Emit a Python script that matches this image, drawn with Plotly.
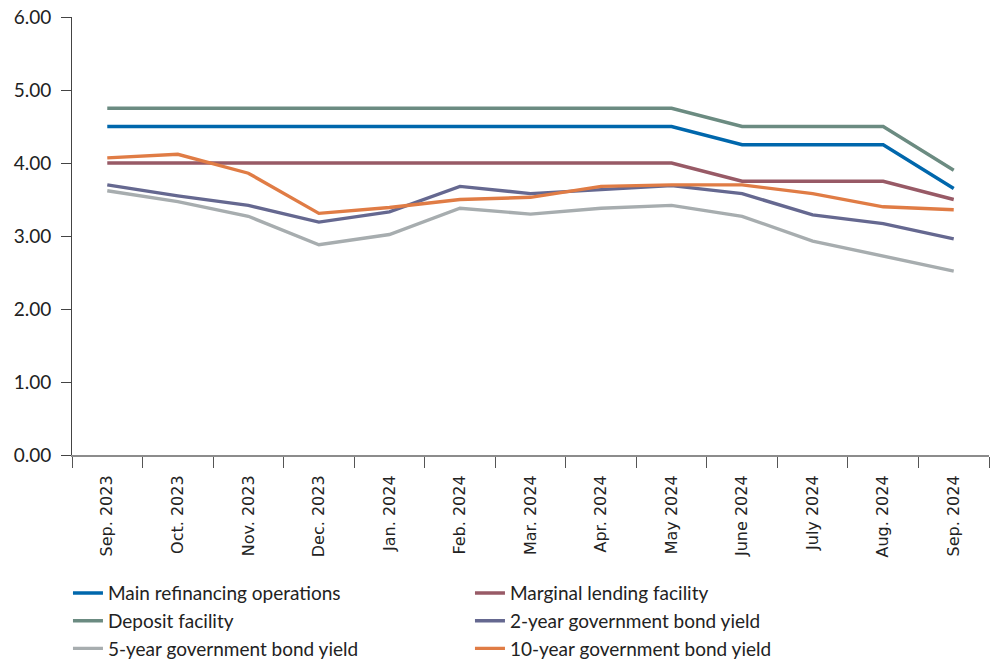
import plotly.graph_objects as go

months = ["Sep. 2023", "Oct. 2023", "Nov. 2023", "Dec. 2023", "Jan. 2024", "Feb. 2024",
          "Mar. 2024", "Apr. 2024", "May 2024", "June 2024", "July 2024", "Aug. 2024", "Sep. 2024"]

main_refi = [4.50, 4.50, 4.50, 4.50, 4.50, 4.50, 4.50, 4.50, 4.50, 4.25, 4.25, 4.25, 3.65]
marginal_lending = [4.00, 4.00, 4.00, 4.00, 4.00, 4.00, 4.00, 4.00, 4.00, 3.75, 3.75, 3.75, 3.50]
deposit = [4.75, 4.75, 4.75, 4.75, 4.75, 4.75, 4.75, 4.75, 4.75, 4.50, 4.50, 4.50, 3.90]
yield_2y = [3.70, 3.55, 3.42, 3.19, 3.33, 3.68, 3.58, 3.64, 3.69, 3.58, 3.29, 3.17, 2.96]
yield_5y = [3.62, 3.47, 3.27, 2.88, 3.02, 3.38, 3.30, 3.38, 3.42, 3.27, 2.93, 2.73, 2.52]
yield_10y = [4.07, 4.12, 3.86, 3.31, 3.39, 3.50, 3.53, 3.68, 3.70, 3.70, 3.58, 3.40, 3.36]

y_ticks = [0, 1, 2, 3, 4, 5, 6]
y_tick_text = ["0.00", "1.00", "2.00", "3.00", "4.00", "5.00", "6.00"]

series = [
    ("Main refinancing operations", main_refi, "#0067ac"),
    ("Marginal lending facility", marginal_lending, "#985a66"),
    ("Deposit facility", deposit, "#6b8b81"),
    ("2-year government bond yield", yield_2y, "#656890"),
    ("5-year government bond yield", yield_5y, "#a7adaf"),
    ("10-year government bond yield", yield_10y, "#e07c45"),
]

fig = go.Figure()
for name, vals, color in series:
    fig.add_trace(go.Scatter(
        x=months, y=vals, name=name, mode="lines",
        line=dict(color=color, width=3.4),
    ))

text_font = "Lato, Noto Sans, sans-serif"
axis_font = "DejaVu Sans, Verdana, sans-serif"

fig.update_layout(
    width=990, height=659,
    margin=dict(l=72, r=1, t=17, b=204, autoexpand=False),
    paper_bgcolor="white", plot_bgcolor="white",
    font=dict(family=text_font, color="#222222", size=16),
    showlegend=True,
    legend=dict(
        orientation="h", x=-0.0044, xanchor="left", y=-0.272, yanchor="top",
        entrywidth=357, entrywidthmode="pixels", itemwidth=30,
        font=dict(size=19, color="#222222", family=text_font), tracegroupgap=0,
        bgcolor="rgba(0,0,0,0)",
    ),
    xaxis=dict(
        type="category", range=[-0.5, 12.5],
        showgrid=False, zeroline=False,
        showline=True, linecolor="#8c8c8c", linewidth=2,
        ticks="outside", tickson="boundaries", ticklen=11, tickcolor="#555555", tickwidth=1,
        tickangle=-90, ticklabelstandoff=12,
        tickfont=dict(size=16, color="#222222", family=axis_font),
    ),
    yaxis=dict(
        range=[0, 6], tickvals=y_ticks, ticktext=y_tick_text,
        showgrid=False, zeroline=False,
        showline=True, linecolor="#444444", linewidth=1,
        ticks="outside", ticklen=10, tickcolor="#444444", tickwidth=1,
        ticklabelstandoff=6, tickfont=dict(size=19, color="#222222", family=text_font),
    ),
)

fig.write_html("out.html")
